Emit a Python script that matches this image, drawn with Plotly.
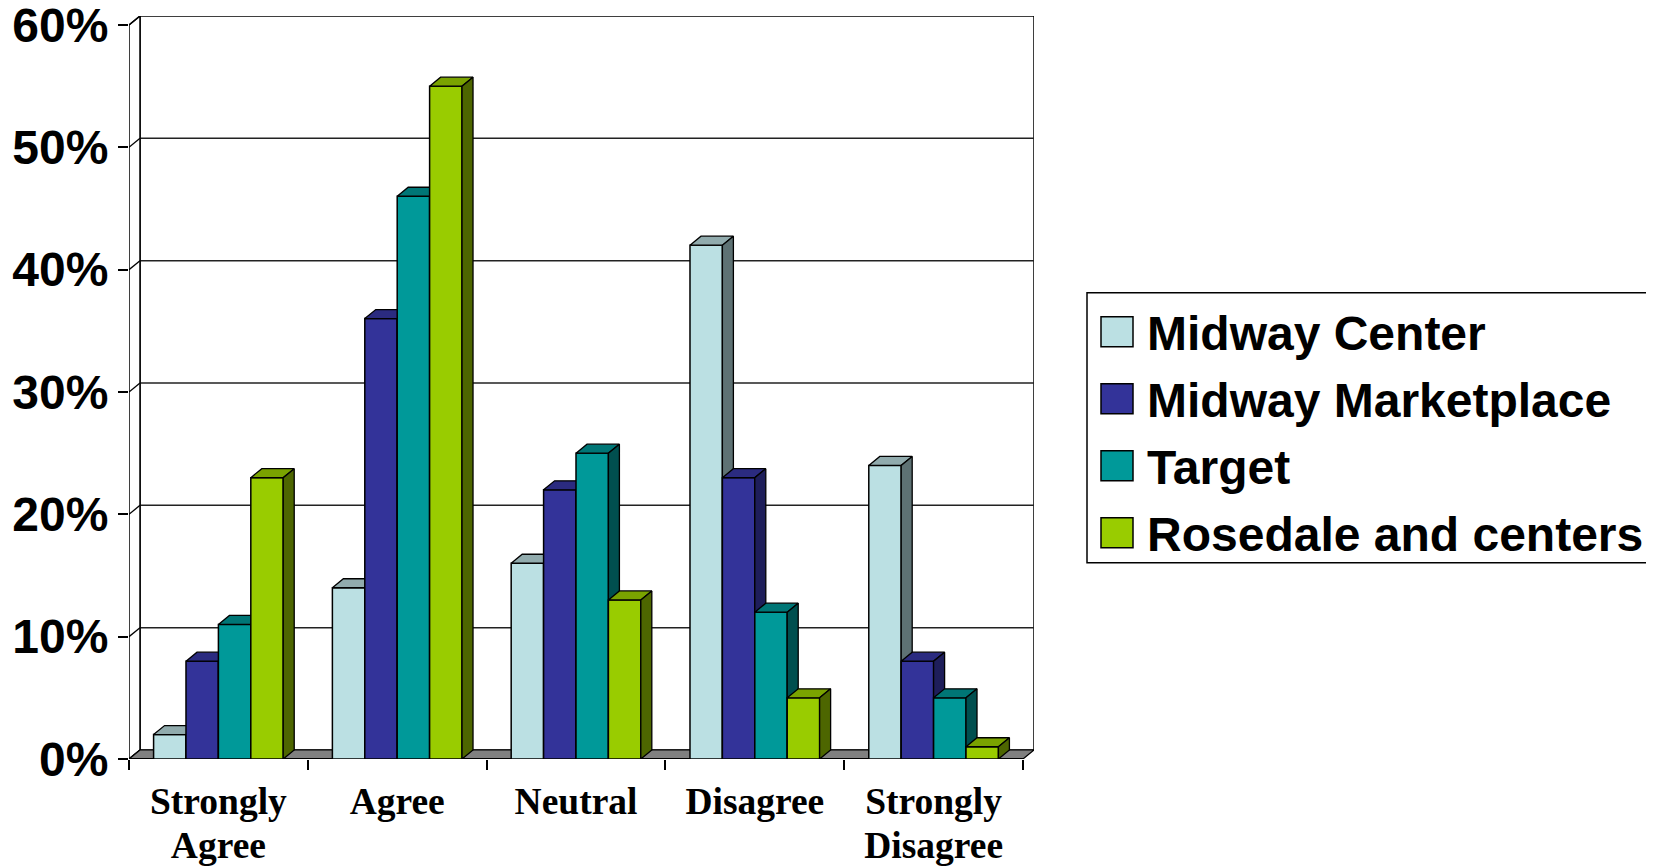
import plotly.graph_objects as go

# ---------------- data ----------------
categories = ["Strongly Agree", "Agree", "Neutral", "Disagree", "Strongly Disagree"]
series_names = ["Midway Center", "Midway Marketplace", "Target", "Rosedale and centers"]
midway_center = [2, 14, 16, 42, 24]
midway_marketplace = [8, 36, 22, 23, 8]
target = [11, 46, 25, 12, 5]
rosedale = [23, 55, 13, 5, 1]
y_ticks = [0, 10, 20, 30, 40, 50, 60]
y_tick_labels = [f"{t}%" for t in y_ticks]

series_values = [midway_center, midway_marketplace, target, rosedale]

# category labels split onto two lines (Excel-style wrapping)
label_line1 = [c.split(" ")[0] for c in categories]
label_line2 = [" ".join(c.split(" ")[1:]) for c in categories]

# ---------------- styles ----------------
front_colors = ["#BBE0E3", "#333399", "#009999", "#99CC00"]
top_colors = ["#91ABAD", "#2B2B80", "#007676", "#7AA300"]
side_colors = ["#5E7274", "#1E1E5A", "#004F4F", "#4D6600"]

OFF = 8  # page body margin of the html page
W, H = 1654 - OFF, 866 - OFF
# target pixel positions in the window
PLOT_LEFT, PLOT_RIGHT, PLOT_TOP, PLOT_BOTTOM = 129, 1034, 16, 759.5
M_L = PLOT_LEFT - OFF
M_R = (W + OFF) - PLOT_RIGHT
M_T = PLOT_TOP - OFF
M_B = (H + OFF) - PLOT_BOTTOM
DEPTH_X_PX, DEPTH_Y_PX = 11, 9
GROUP_WIDTH = 0.725

plot_w = W - M_L - M_R
plot_h = H - M_T - M_B
n_cat = len(categories)
xunit_px = (plot_w - DEPTH_X_PX) / n_cat
x_range = [-0.5, -0.5 + plot_w / xunit_px]
ymax = y_ticks[-1]
yunit_px = (plot_h - DEPTH_Y_PX) / ymax
y_range = [0, plot_h / yunit_px]
dx = DEPTH_X_PX / xunit_px
dy = DEPTH_Y_PX / yunit_px
n_ser = len(series_values)
bw = GROUP_WIDTH / n_ser
x_lo, x_hi = -0.5, n_cat - 0.5

SANS = "Liberation Sans, Arial, sans-serif"
SERIF = "Liberation Serif, Times New Roman, serif"


def px_to_paper(px, py):
    """window pixel -> paper coords"""
    return (px - OFF - M_L) / plot_w, (H - M_B - (py - OFF)) / plot_h


fig = go.Figure()

for k, (vals, name) in enumerate(zip(series_values, series_names)):
    sfx = "" if k == 0 else str(k + 1)
    xa, ya = "x" + sfx, "y" + sfx
    offset = (k - (n_ser - 1) / 2) * bw
    xs = [i + offset for i in range(n_cat)]
    fig.add_trace(go.Bar(
        x=xs, y=vals, width=bw, name=name, xaxis=xa, yaxis=ya,
        marker=dict(color=front_colors[k], line=dict(color="black", width=1.5)),
        showlegend=False, hoverinfo="skip",
    ))
    tx, ty, sx, sy = [], [], [], []
    for xc, h in zip(xs, vals):
        x0, x1 = xc - bw / 2, xc + bw / 2
        tx += [x0, x1, x1 + dx, x0 + dx, x0, None]
        ty += [h, h, h + dy, h + dy, h, None]
        sx += [x1, x1 + dx, x1 + dx, x1, x1, None]
        sy += [0, dy, h + dy, h, 0, None]
    fig.add_trace(go.Scatter(
        x=tx, y=ty, mode="lines", fill="toself", fillcolor=top_colors[k],
        line=dict(color="black", width=1.3), xaxis=xa, yaxis=ya,
        showlegend=False, hoverinfo="skip",
    ))
    fig.add_trace(go.Scatter(
        x=sx, y=sy, mode="lines", fill="toself", fillcolor=side_colors[k],
        line=dict(color="black", width=1.3), xaxis=xa, yaxis=ya,
        showlegend=False, hoverinfo="skip",
    ))

# ---------------- 3D frame (walls, floor) ----------------
shapes = []
shapes.append(dict(type="rect", xref="x", yref="y", x0=x_lo + dx, x1=x_hi + dx, y0=dy, y1=ymax + dy,
                   fillcolor="white", line=dict(color="black", width=1.5), layer="below"))
for t in y_ticks[1:-1]:
    shapes.append(dict(type="line", xref="x", yref="y", x0=x_lo + dx, x1=x_hi + dx, y0=t + dy, y1=t + dy,
                       line=dict(color="#222222", width=1.5), layer="below"))
shapes.append(dict(type="path", xref="x", yref="y",
                   path=f"M {x_lo},0 L {x_lo},{ymax} L {x_lo + dx},{ymax + dy} L {x_lo + dx},{dy} Z",
                   fillcolor="white", line=dict(color="black", width=1.5), layer="below"))
for t in y_ticks:
    shapes.append(dict(type="line", xref="x", yref="y", x0=x_lo, x1=x_lo + dx, y0=t, y1=t + dy,
                       line=dict(color="black", width=1.3), layer="below"))
shapes.append(dict(type="path", xref="x", yref="y",
                   path=f"M {x_lo},0 L {x_hi},0 L {x_hi + dx},{dy} L {x_lo + dx},{dy} Z",
                   fillcolor="#808080", line=dict(color="black", width=1.2), layer="below"))
shapes.append(dict(type="line", xref="x", yref="y", x0=x_lo, x1=x_hi, y0=0, y1=0,
                   line=dict(color="black", width=2), layer="below"))

# ---------------- manual legend ----------------
annotations = []
LEG_BOX = (1087, 293, 1652, 563)
bx0, by0 = px_to_paper(LEG_BOX[0], LEG_BOX[1])
bx1, by1 = px_to_paper(LEG_BOX[2], LEG_BOX[3])
shapes.append(dict(type="rect", xref="paper", yref="paper", x0=bx0, x1=bx1, y0=by1, y1=by0,
                   fillcolor="white", line=dict(color="black", width=1.5), layer="above"))
SQ_X0, SQ_X1, SQ_H = 1101, 1133, 30
ROW_Y0, ROW_STEP = 332, 67
TEXT_X = 1145
for k, name in enumerate(series_names):
    cy = ROW_Y0 + k * ROW_STEP
    qx0, qy0 = px_to_paper(SQ_X0, cy - SQ_H / 2)
    qx1, qy1 = px_to_paper(SQ_X1, cy + SQ_H / 2)
    shapes.append(dict(type="rect", xref="paper", yref="paper", x0=qx0, x1=qx1, y0=qy1, y1=qy0,
                       fillcolor=front_colors[k], line=dict(color="black", width=1.5), layer="above"))
    ax, ay = px_to_paper(TEXT_X, cy + 2)
    annotations.append(dict(xref="paper", yref="paper", x=ax, y=ay, text=name, showarrow=False,
                            xanchor="left", yanchor="middle",
                            font=dict(family=SANS, size=48, color="black", weight="bold")))

XFONT = dict(family=SERIF, size=37.5, color="black", weight="bold")
LINE1_STANDOFF = 16
LINE_GAP = 44
line2_vals = [i for i, t in enumerate(label_line2) if t]
line2_text = [label_line2[i] for i in line2_vals]

fig.update_layout(
    width=W, height=H,
    margin=dict(l=M_L, r=M_R, t=M_T, b=M_B, autoexpand=False),
    paper_bgcolor="white", plot_bgcolor="rgba(0,0,0,0)",
    showlegend=False, hovermode=False,
    shapes=shapes, annotations=annotations,
    xaxis=dict(range=x_range, tickmode="array", tickvals=list(range(n_cat)), ticktext=label_line1,
               ticks="", showline=False, showgrid=False, zeroline=False,
               ticklabelstandoff=LINE1_STANDOFF, ticklabeloverflow="allow", tickfont=XFONT),
    yaxis=dict(range=y_range, tickmode="array", tickvals=y_ticks, ticktext=y_tick_labels,
               ticks="outside", ticklen=10, tickwidth=1.5, tickcolor="black",
               showline=False, showgrid=False, zeroline=False, ticklabelstandoff=0,
               ticklabeloverflow="allow",
               tickfont=dict(family=SANS, size=48, color="black", weight="bold")),
    xaxis2=dict(range=x_range, overlaying="x", anchor="y2", tickmode="array",
                tickvals=[i - 0.5 for i in range(n_cat + 1)], ticks="outside", ticklen=10,
                tickwidth=1.5, tickcolor="black", showticklabels=False, showline=False,
                showgrid=False, zeroline=False),
    yaxis2=dict(range=y_range, overlaying="y", anchor="x2", visible=False),
    xaxis3=dict(range=x_range, overlaying="x", anchor="y3", tickmode="array",
                tickvals=line2_vals, ticktext=line2_text, ticks="", showline=False,
                showgrid=False, zeroline=False, ticklabelstandoff=LINE1_STANDOFF + LINE_GAP,
                ticklabeloverflow="allow", tickfont=XFONT),
    yaxis3=dict(range=y_range, overlaying="y", anchor="x3", visible=False),
    xaxis4=dict(range=x_range, overlaying="x", anchor="y4", visible=False),
    yaxis4=dict(range=y_range, overlaying="y", anchor="x4", visible=False),
)

fig.write_html("out.html")
